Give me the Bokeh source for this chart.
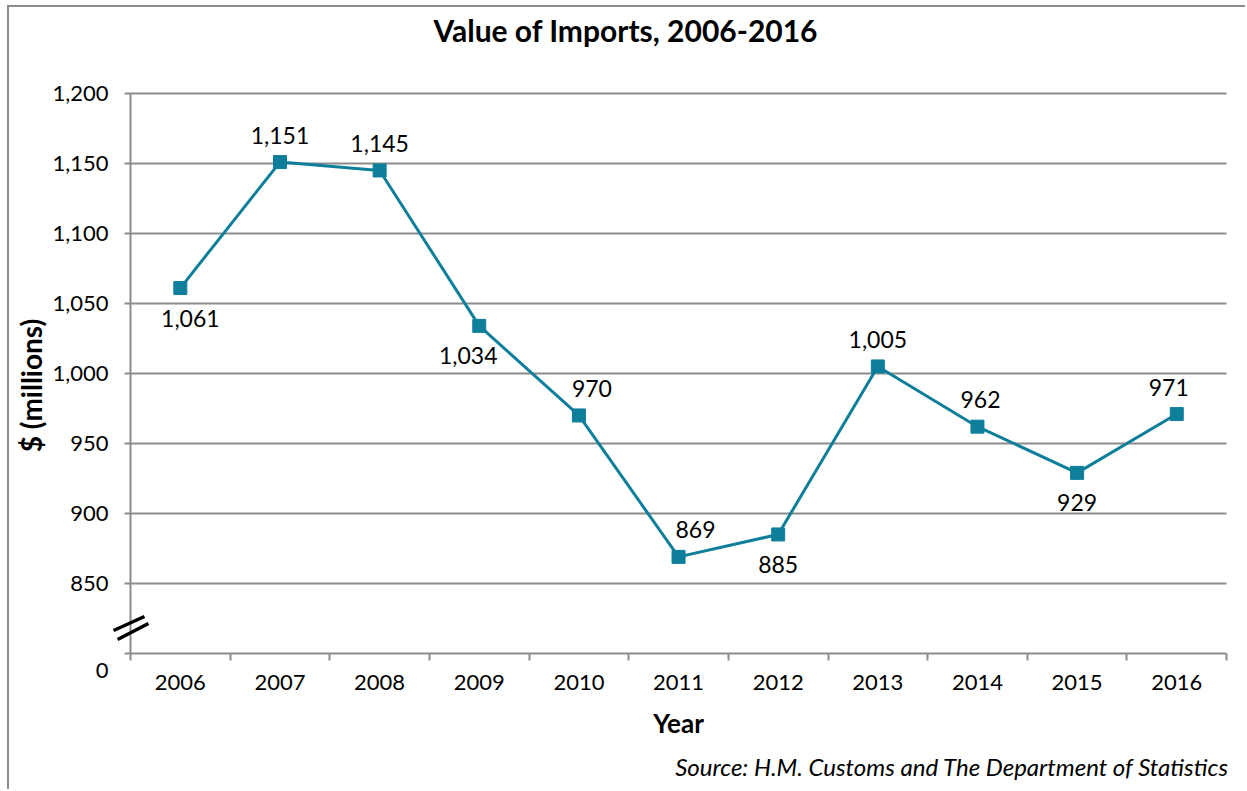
import math
from bokeh.plotting import figure
from bokeh.models import ColumnDataSource, Range1d, FixedTicker, NumeralTickFormatter, Label, Arrow
from bokeh.core.properties import value
from bokeh.embed import file_html
from bokeh.resources import INLINE

# ---- data ----
years = [2006, 2007, 2008, 2009, 2010, 2011, 2012, 2013, 2014, 2015, 2016]
imports = [1061, 1151, 1145, 1034, 970, 869, 885, 1005, 962, 929, 971]
value_labels = ["1,061", "1,151", "1,145", "1,034", "970", "869", "885",
                "1,005", "962", "929", "971"]
label_side = ["below", "above", "above", "below", "above", "above", "below",
              "above", "above", "below", "above"]
y_ticks = [800, 850, 900, 950, 1000, 1050, 1100, 1150, 1200]
grid_ticks = [850, 900, 950, 1000, 1050, 1100, 1150, 1200]
zero_label = "0"          # label of the broken-axis origin
y_overrides = {800: ""}   # drawn separately, slightly below the axis

title_text = "Value of Imports, 2006-2016"
y_title = "$ (millions)"
x_title = "Year"
source_text = "Source:  H.M. Customs and The Department of Statistics"

FONT = "Lato"
TEAL = "#0E7F9B"
GRAY = "#8c8c8c"

x_off = [10, 0, 0, -11, 13, 17, 0, 0, 3, 0, -8]
y_off = [30 if s == "below" else -27 for s in label_side]

src = ColumnDataSource(dict(x=years, y=imports, lab=value_labels, xo=x_off, yo=y_off))

x_lo = years[0] - 0.5
x_hi = years[-1] + 0.5
y_lo = y_ticks[0]
y_hi = y_ticks[-1]

# the frame covers the whole canvas; axes are pinned to the data area
p = figure(width=1238, height=784, output_backend="svg", toolbar_location=None,
           x_range=Range1d(2004.2856, 2016.71),
           y_range=Range1d(701.4, 1261.4),
           min_border_left=0, min_border_right=0, min_border_top=0,
           min_border_bottom=0, background_fill_color="white",
           border_fill_color="white", outline_line_color=None)
p.styles = {"border-left": "2px solid #8c8c8c", "border-top": "2px solid #8c8c8c",
            "margin-left": "7px", "margin-top": "5px"}
p.title.visible = False

# grid
p.xgrid.visible = False
grid = p.ygrid[0]
if "cross_bounds" in grid.properties():
    grid.ticker = FixedTicker(ticks=grid_ticks)
    grid.grid_line_color = GRAY
    grid.grid_line_width = 2
    grid.cross_bounds = (x_lo, x_hi)
else:
    grid.visible = False
    p.segment(x0=[x_lo] * len(grid_ticks), y0=grid_ticks, x1=[x_hi] * len(grid_ticks),
              y1=grid_ticks, line_color=GRAY, line_width=2, level="underlay")

# y axis
p.yaxis.fixed_location = x_lo
p.yaxis.bounds = (y_lo, y_hi)
p.yaxis.ticker = FixedTicker(ticks=y_ticks)
p.yaxis.formatter = NumeralTickFormatter(format="0,0")
p.yaxis.major_label_overrides = y_overrides
p.yaxis.axis_line_color = GRAY
p.yaxis.axis_line_width = 2
p.yaxis.major_tick_line_color = GRAY
p.yaxis.major_tick_line_width = 2
p.yaxis.major_tick_out = 6
p.yaxis.major_tick_in = 0
p.yaxis.minor_tick_line_color = None
p.yaxis.major_label_standoff = 16
p.yaxis.major_label_text_font = FONT
p.yaxis.major_label_text_font_size = "22px"
p.yaxis.major_label_text_color = "black"

# x axis: labels at years, ticks at category boundaries (minor ticks)
p.xaxis.fixed_location = y_lo
p.xaxis.bounds = (x_lo, x_hi)
p.xaxis.ticker = FixedTicker(ticks=years, minor_ticks=[y - 0.5 for y in years] + [x_hi])
p.xaxis.formatter = NumeralTickFormatter(format="0")
p.xaxis.axis_line_color = GRAY
p.xaxis.axis_line_width = 2
p.xaxis.major_tick_line_color = None
p.xaxis.major_tick_out = 0
p.xaxis.major_tick_in = 0
p.xaxis.minor_tick_line_color = GRAY
p.xaxis.minor_tick_line_width = 2
p.xaxis.minor_tick_out = 7
p.xaxis.minor_tick_in = 0
p.xaxis.major_label_standoff = 15
p.xaxis.major_label_text_font = FONT
p.xaxis.major_label_text_font_size = "22px"
p.xaxis.major_label_text_color = "black"

# series
p.line("x", "y", source=src, line_color=TEAL, line_width=3)
p.scatter("x", "y", source=src, marker="square", size=13, fill_color=TEAL, line_color=TEAL)
p.text("x", "y", text="lab", source=src, x_offset="xo", y_offset="yo",
       text_font=value(FONT), text_font_size="23px", text_color="black",
       text_align="center", text_baseline="alphabetic")

# origin label of the broken axis
p.add_layout(Label(x=2005.28, y=787.9, text=zero_label, text_font=FONT,
                   text_font_size="22px", text_color="black",
                   text_align="right", text_baseline="middle"))

# titles and source note
p.add_layout(Label(x=2010.47, y=1245.6, text=title_text, text_font=FONT,
                   text_font_size="30px", text_font_style="bold", text_color="black",
                   text_align="center", text_baseline="alphabetic"))
p.add_layout(Label(x=2004.506, y=991.4, text=y_title, angle=math.pi / 2, text_font=FONT,
                   text_font_size="28px", text_font_style="bold", text_color="black",
                   text_align="center", text_baseline="middle"))
p.add_layout(Label(x=(x_lo + x_hi) / 2, y=750.0, text=x_title, text_font=FONT,
                   text_font_size="26px", text_font_style="bold", text_color="black",
                   text_align="center", text_baseline="alphabetic"))
p.add_layout(Label(x=2016.58, y=719.3, text=source_text, text_font=FONT,
                   text_font_size="24px", text_font_style="italic", text_color="black",
                   text_align="right", text_baseline="alphabetic"))

# axis break marks
for (xs, ys, xe, ye) in [(2005.33, 816.4, 2005.64, 826.4), (2005.37, 810.0, 2005.68, 821.4)]:
    p.add_layout(Arrow(end=None, x_start=xs, y_start=ys, x_end=xe, y_end=ye,
                       line_color="black", line_width=3.5))

open("out.html", "w").write(file_html(p, INLINE))
